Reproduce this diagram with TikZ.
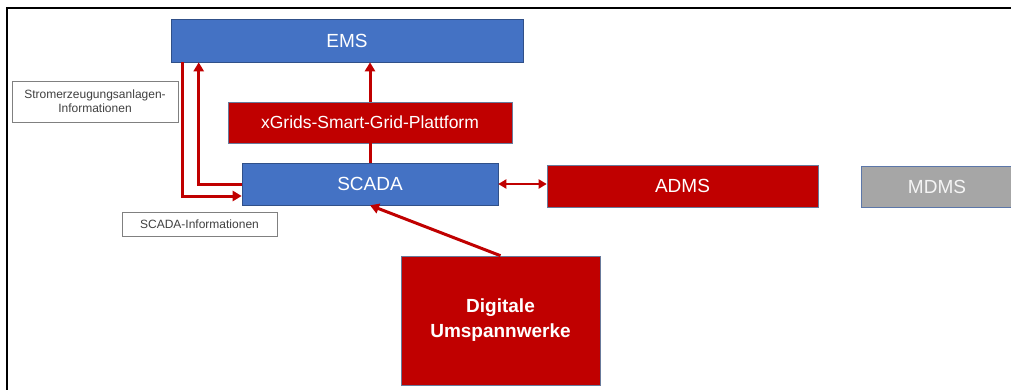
\documentclass[tikz,border=0pt]{standalone}
\usepackage{fontspec}
\setmainfont{Liberation Sans}
\usetikzlibrary{arrows.meta}
\definecolor{emsblue}{HTML}{4472C4}
\definecolor{emsred}{HTML}{C00000}
\definecolor{emsgray}{HTML}{A6A6A6}
\definecolor{txtgray}{HTML}{404040}
\begin{document}
\begin{tikzpicture}[x=1pt,y=-1pt,
    >={Triangle[length=9pt,width=10pt]},
    box/.style={rectangle,inner sep=0pt,text=white,font=\fontsize{19}{23}\selectfont},
    bluebox/.style={box,fill=emsblue,draw=emsblue!70!black,line width=0.6pt},
    redbox/.style={box,fill=emsred,draw=emsblue!40!gray,line width=0.6pt},
    graybox/.style={box,fill=emsgray,draw=emsblue!60!gray,line width=0.6pt,text=white!92!gray},
    infobox/.style={rectangle,inner sep=0pt,draw=gray,line width=0.6pt,text=txtgray,
      align=center,font=\fontsize{12}{14}\selectfont},
    flow/.style={draw=emsred,line width=3pt}]
    \useasboundingbox (0,0) rectangle (1011,390);
    \draw[line width=2pt] (7,390) -- (7,8) -- (1012,8);
    \node[bluebox,minimum width=352pt,minimum height=43pt] (ems) at (347,40.5) {EMS};
    \node[redbox,minimum width=284pt,minimum height=41pt,font=\fontsize{17.5}{21}\selectfont] (xgrid) at (370,122.5) {xGrids-Smart-Grid-Plattform};
    \node[bluebox,minimum width=256pt,minimum height=42pt] (scada) at (370,184) {SCADA};
    \node[redbox,minimum width=271pt,minimum height=42pt] (adms) at (682.5,186) {ADMS};
    \node[graybox,minimum width=152pt,minimum height=41pt] (mdms) at (937,186.5) {MDMS};
    \node[redbox,minimum width=199pt,minimum height=129pt,align=center,
      font=\bfseries\fontsize{19}{25}\selectfont] (dig) at (500.5,320.5) {Digitale\\Umspannwerke};
    \node[infobox,minimum width=166pt,minimum height=41pt] (strom) at (95,101.5) {Stromerzeugungsanlagen-\\Informationen};
    \node[infobox,minimum width=155pt,minimum height=24pt] (scinfo) at (199.5,224) {SCADA-Informationen};
    % Verbindungen
    \draw[flow,->] ([xshift=12pt]ems.south west) |- ([yshift=-12pt]scada.west);
    \draw[flow,->] ([yshift=-1pt]scada.west) -| ([xshift=28pt]ems.south west);
    \draw[flow] (scada.north) -- (xgrid.south);
    \draw[flow,->] (xgrid.north) -- (xgrid.north |- ems.south);
    \draw[flow,<->,>={Triangle[length=8pt,width=9pt]},line width=2.4pt] (scada.east) -- (scada.east -| adms.west);
    \draw[flow,->] (dig.north) -- (scada.south);
\end{tikzpicture}
\end{document}
